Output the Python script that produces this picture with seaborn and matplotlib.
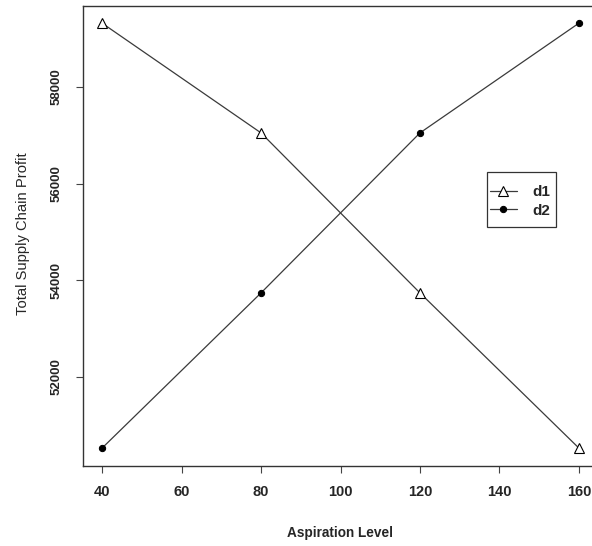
import matplotlib
matplotlib.use("Agg")
import matplotlib.pyplot as plt
from matplotlib.patches import Rectangle
import seaborn as sns
import pandas as pd

aspiration = [40, 80, 120, 160]
d1 = [59320, 57050, 53740, 50530]
d2 = [50530, 53740, 57050, 59320]
series_names = ["d1", "d2"]
x_ticks = [40, 60, 80, 100, 120, 140, 160]
y_ticks = [52000, 54000, 56000, 58000]

sns.set_theme(style="white")
plt.rcParams['font.family'] = ['Liberation Sans', 'DejaVu Sans']

df = pd.DataFrame({
    "x": aspiration * 2,
    "y": d1 + d2,
    "series": [series_names[0]] * 4 + [series_names[1]] * 4,
})

W, H = 592, 546
fig = plt.figure(figsize=(W / 100, H / 100), dpi=100)
ax = fig.add_axes([83 / W, 1 - 466 / H, 515 / W, 460 / H])

line_color = "#3a3a3a"
sns.lineplot(data=df[df.series == "d1"], x="x", y="y", ax=ax, color=line_color,
             marker="^", markersize=6.5, markerfacecolor="white", markeredgecolor="black",
             markeredgewidth=0.8, linewidth=0.9, label="d1")
sns.lineplot(data=df[df.series == "d2"], x="x", y="y", ax=ax, color=line_color,
             marker="o", markersize=4.5, markerfacecolor="black", markeredgecolor="black",
             linewidth=0.9, label="d2")

ax.set_xlim(35.2, 164.8)
ax.set_ylim(50160, 59675)
ax.set_xticks(x_ticks)
ax.set_yticks(y_ticks)
ax.set_xticklabels([str(t) for t in x_ticks], fontweight="bold", fontsize=10.5)
ax.set_yticklabels([str(t) for t in y_ticks], rotation=90, va="center", fontsize=9.5,
                   fontweight="bold")
ax.tick_params(axis="both", direction="out", length=5, width=0.8, color="#444444",
               bottom=True, left=True)
ax.tick_params(axis="x", pad=9)
ax.tick_params(axis="y", pad=9.5)
for s in ax.spines.values():
    s.set_color("#333333")
    s.set_linewidth(1.0)
ax.set_xlabel("")
ax.set_ylabel("")

fig.text(340 / W, 1 - 533 / H, "Aspiration Level", ha="center", va="center",
         fontsize=9.8, fontweight="bold")
fig.text(23 / W, 1 - 234 / H, "Total Supply Chain Profit", ha="center", va="center",
         rotation=90, fontsize=10.6)

# legend box
fig.patches.append(Rectangle((487 / W, 1 - 227 / H), 69 / W, 55 / H,
                             transform=fig.transFigure, fill=False,
                             edgecolor="#333333", linewidth=0.9))
leg = ax.legend(loc="upper left", bbox_to_anchor=(490 / W, 1 - 185.5 / H),
                bbox_transform=fig.transFigure, borderaxespad=0, borderpad=0,
                frameon=False, fontsize=11, handlelength=1.76,
                handletextpad=1.0, labelspacing=0.28)
for t in leg.get_texts():
    t.set_fontweight("bold")

fig.savefig("out.png", dpi=100)
